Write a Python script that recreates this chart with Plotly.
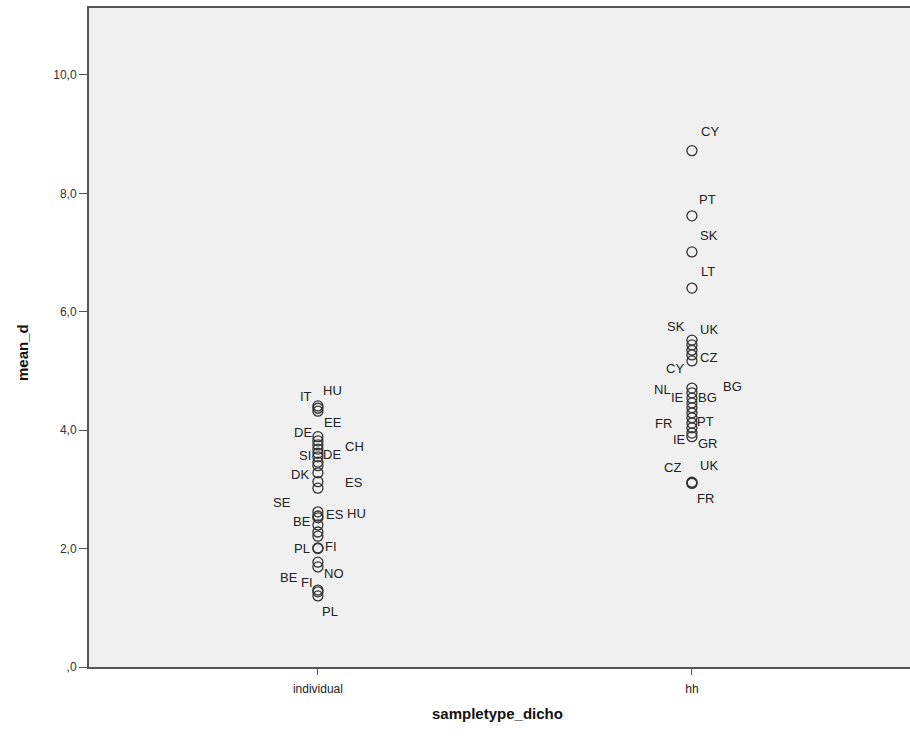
import plotly.graph_objects as go

# ---- data ----
categories = ["individual", "hh"]

ind_values = [4.41, 4.37, 4.32, 3.89, 3.82, 3.75, 3.68, 3.61, 3.55, 3.46, 3.40, 3.28,
              3.13, 3.02, 2.62, 2.55, 2.52, 2.40, 2.28, 2.21, 2.01, 2.00, 1.77, 1.69,
              1.30, 1.27, 1.20]
ind_labels = ["IT", "HU", "EE", "DE", "", "CH", "", "SI", "DE", "", "", "DK",
              "ES", "", "SE", "ES", "HU", "BE", "", "", "PL", "FI", "", "NO",
              "BE", "FI", "PL"]

hh_values = [8.72, 7.62, 7.01, 6.40, 5.52, 5.44, 5.35, 5.27, 5.17, 4.71, 4.63, 4.54,
             4.46, 4.38, 4.29, 4.21, 4.12, 4.04, 3.95, 3.89, 3.12, 3.11, 3.10]
hh_labels = ["CY", "PT", "SK", "LT", "SK", "UK", "", "CZ", "CY", "NL", "BG", "IE",
             "BG", "", "", "", "FR", "PT", "IE", "GR", "CZ", "UK", "FR"]

y_tickvals = [0, 2, 4, 6, 8, 10]
y_ticktext = [",0", "2,0", "4,0", "6,0", "8,0", "10,0"]

# ---- label pixel offsets (dx, dy; dy positive = downward), style only ----
ind_offsets = [(-12, -9), (15, -18), (15, 11), (-15, -4), None, (37, 2), None, (-13, 2),
               (14, -2), None, None, (-18, 2), (36, 1), None, (-36, -9), (17, -2),
               (39, -4), (-16, -3), None, None, (-16, 1), (13, -2), None, (16, 7),
               (-29, -13), (-11, -9), (12, 16)]
hh_offsets = [(18, -19), (16, -16), (17, -16), (16, -17), (-16, -14), (17, -15), None,
              (17, 3), (-17, 8), (-29, 1), (41, -6), (-14, -1), (16, -5), None, None,
              None, (-28, 0), (14, -6), (-12, 6), (16, 7), (-19, -15), (17, -17),
              (14, 15)]

fig = go.Figure()

marker = dict(symbol="circle-open", size=10, color="#333333", line=dict(width=1.3, color="#333333"))

fig.add_trace(go.Scatter(x=[categories[0]] * len(ind_values), y=ind_values,
                         mode="markers", marker=marker, showlegend=False))
fig.add_trace(go.Scatter(x=[categories[1]] * len(hh_values), y=hh_values,
                         mode="markers", marker=marker, showlegend=False))

annotations = []
for cat, vals, labs, offs in [(categories[0], ind_values, ind_labels, ind_offsets),
                              (categories[1], hh_values, hh_labels, hh_offsets)]:
    for v, lab, off in zip(vals, labs, offs):
        if not lab or off is None:
            continue
        annotations.append(dict(x=cat, y=v, xref="x", yref="y", text=lab, showarrow=False,
                                xshift=off[0], yshift=-off[1], xanchor="center", yanchor="middle",
                                font=dict(family="Arial, Liberation Sans", size=13, color="#222222")))

# axis titles
annotations.append(dict(x=0, y=(667 - 353) / 659, xref="paper", yref="paper", text="<b>mean_d</b>",
                        textangle=-90, showarrow=False, xshift=-67, xanchor="center", yanchor="middle",
                        font=dict(family="Arial, Liberation Sans", size=15, color="#111111")))
annotations.append(dict(x=(497 - 89) / 821, y=0, xref="paper", yref="paper", text="<b>sampletype_dicho</b>",
                        showarrow=False, yshift=-46, xanchor="center", yanchor="middle",
                        font=dict(family="Arial, Liberation Sans", size=15, color="#111111")))

fig.update_layout(
    width=910, height=738,
    margin=dict(l=89, r=0, t=8, b=71),
    paper_bgcolor="white", plot_bgcolor="#f0f0f0",
    annotations=annotations,
    font=dict(family="Arial, Liberation Sans", size=12, color="#333333"),
)
fig.update_xaxes(type="category", categoryorder="array", categoryarray=categories,
                 range=[-0.612, 1.583], showgrid=False, zeroline=False,
                 showline=True, linecolor="#555555", linewidth=2, mirror=True,
                 ticks="outside", ticklen=6, tickcolor="#555555",
                 tickfont=dict(size=12, color="#222222"), ticklabelstandoff=4)
fig.update_yaxes(range=[0, 11.13], showgrid=False, zeroline=False,
                 showline=True, linecolor="#555555", linewidth=2,
                 ticks="outside", ticklen=8, tickcolor="#555555",
                 tickvals=y_tickvals, ticktext=y_ticktext,
                 tickfont=dict(size=12, color="#333333"))

fig.write_html("out.html", config={"displayModeBar": False},
               post_script="document.body.style.margin='0';document.body.style.overflow='hidden';")
